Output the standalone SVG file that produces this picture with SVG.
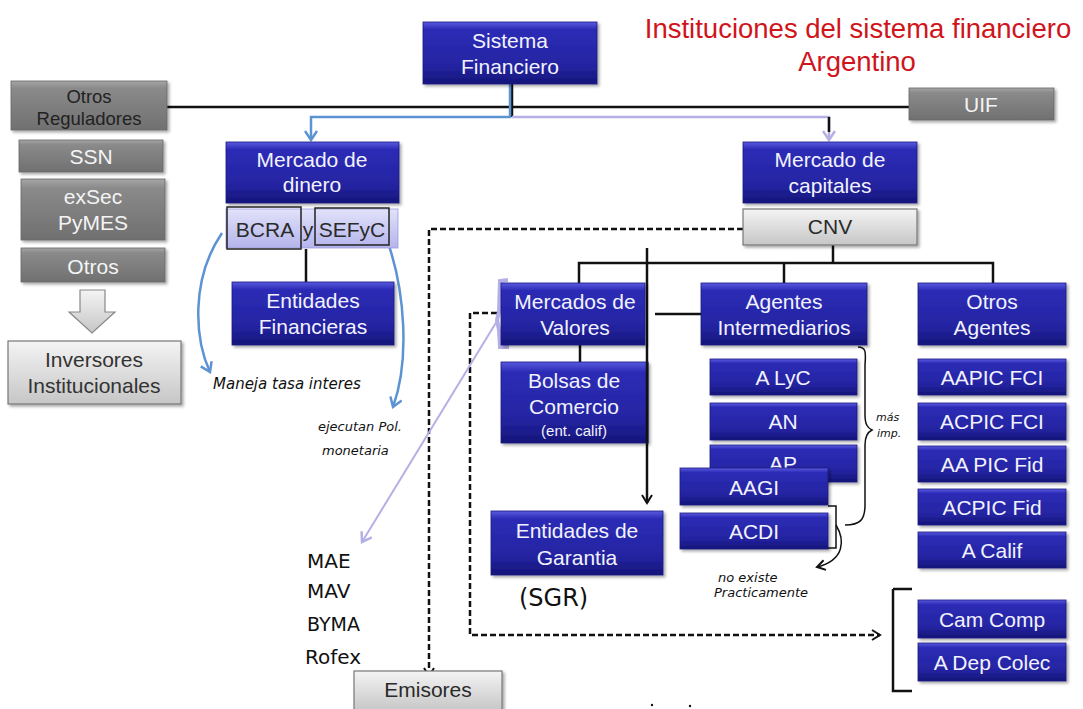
<svg xmlns="http://www.w3.org/2000/svg" width="1083" height="709" viewBox="0 0 1083 709">
<defs>
<linearGradient id="gBlue" x1="0" y1="0" x2="0" y2="1">
<stop offset="0" stop-color="#5a5ae0"/>
<stop offset="0.12" stop-color="#2c2cb6"/>
<stop offset="0.7" stop-color="#2424a2"/>
<stop offset="1" stop-color="#15157a"/>
</linearGradient>
<linearGradient id="gGray" x1="0" y1="0" x2="0" y2="1">
<stop offset="0" stop-color="#a6a6a6"/>
<stop offset="0.15" stop-color="#8a8a8a"/>
<stop offset="1" stop-color="#707070"/>
</linearGradient>
<linearGradient id="gLight" x1="0" y1="0" x2="0" y2="1">
<stop offset="0" stop-color="#f4f4f4"/>
<stop offset="1" stop-color="#c6c6c6"/>
</linearGradient>
<linearGradient id="gLav" x1="0" y1="0" x2="0" y2="1">
<stop offset="0" stop-color="#e2e2fa"/>
<stop offset="1" stop-color="#b4b4ec"/>
</linearGradient>
<filter id="sh" x="-10%" y="-10%" width="125%" height="135%">
<feDropShadow dx="2" dy="2" stdDeviation="1.5" flood-color="#000" flood-opacity="0.35"/>
</filter>
<marker id="aBlack" markerWidth="12" markerHeight="12" refX="10" refY="6" orient="auto" markerUnits="userSpaceOnUse">
<path d="M2,1 L10,6 L2,11" fill="none" stroke="#111" stroke-width="2"/>
</marker>
<marker id="aBlue" markerWidth="14" markerHeight="14" refX="11" refY="7" orient="auto" markerUnits="userSpaceOnUse">
<path d="M2,1 L11,7 L2,13" fill="none" stroke="#5b93d3" stroke-width="2.5"/>
</marker>
<marker id="aLav" markerWidth="14" markerHeight="14" refX="11" refY="7" orient="auto" markerUnits="userSpaceOnUse">
<path d="M2,1 L11,7 L2,13" fill="none" stroke="#b4b0e6" stroke-width="2.5"/>
</marker>
<marker id="aHand" markerWidth="12" markerHeight="12" refX="10" refY="6" orient="auto" markerUnits="userSpaceOnUse">
<path d="M2,1 L10,6 L2,11" fill="none" stroke="#111" stroke-width="2"/>
</marker>
</defs>
<style>
.blue{fill:url(#gBlue);stroke:#1a1a80;stroke-width:0.8;filter:url(#sh)}
.gray{fill:url(#gGray);stroke:#666;stroke-width:0.8;filter:url(#sh)}
.light{fill:url(#gLight);stroke:#777;stroke-width:1.2;filter:url(#sh)}
.lav{fill:url(#gLav);stroke:#9c9ce0;stroke-width:0.8}
text{font-family:"Liberation Sans",Arial,sans-serif;text-anchor:middle}
.tw{fill:#f2f2ff;font-size:21px}
.td{fill:#2a2a2a;font-size:21px}
.tg{fill:#f4f4f4;font-size:21px}
.hand{font-family:"DejaVu Sans",sans-serif;fill:#111;text-anchor:start;font-style:italic}
.conn{fill:none;stroke:#111;stroke-width:2.5}
.dash{fill:none;stroke:#111;stroke-width:2.5;stroke-dasharray:6 3}
</style>

<text x="858" y="38" style="fill:#d0141c;font-size:27.5px">Instituciones del sistema financiero</text>
<text x="857" y="71" style="fill:#d0141c;font-size:27.5px">Argentino</text>

<g id="connectors">
<line class="conn" x1="167" y1="107" x2="909" y2="107"/>
<line class="conn" x1="512" y1="84" x2="512" y2="117"/>
<path d="M510,84 L510,117 L311,117 L311,140" fill="none" stroke="#5b93d3" stroke-width="2.5" marker-end="url(#aBlue)"/>
<path d="M512,117 L829,117 L829,140" fill="none" stroke="#b4b0e6" stroke-width="2.5" marker-end="url(#aLav)"/>
<line class="conn" x1="829" y1="117" x2="829" y2="132" stroke-width="1.5"/>
<line class="conn" x1="306" y1="249" x2="306" y2="282"/>
<path class="dash" d="M743,229 L429,229 L429,676" marker-end="url(#aBlack)"/>
<line class="conn" x1="833" y1="245" x2="833" y2="263"/>
<path class="conn" d="M579,283 L579,263 L993,263 L993,283"/>
<line class="conn" x1="784" y1="263" x2="784" y2="283"/>
<line class="conn" x1="647" y1="248" x2="647" y2="503" marker-end="url(#aBlack)"/>
<line class="conn" x1="655" y1="314" x2="701" y2="314"/>
<line class="conn" x1="580" y1="345" x2="580" y2="362"/>
<path class="dash" d="M497,313 L470,313 L470,635 L880,635" marker-end="url(#aBlack)"/>
<path d="M222,233 C190,280 195,340 210,372" fill="none" stroke="#5b93d3" stroke-width="2.5" marker-end="url(#aBlue)"/>
<path d="M387,240 C405,290 410,360 393,407" fill="none" stroke="#5b93d3" stroke-width="2.5" marker-end="url(#aBlue)"/>
<path d="M497,321 L362,542" fill="none" stroke="#b4b0e6" stroke-width="2" marker-end="url(#aLav)"/>
<path d="M508,280 L500,281 L499,312 L497,320 L499,330 L500,347 L509,347" fill="none" stroke="#b4b0e6" stroke-width="4"/>
<path d="M893,589 L912,589 M893,589 L893,691 L912,691" fill="none" stroke="#111" stroke-width="2.5"/>
</g>

<g id="sistema"><rect class="blue" x="423" y="22" width="174" height="62"/><text class="tw" x="510" y="48">Sistema</text><text class="tw" x="510" y="74">Financiero</text></g>
<g id="otros-reguladores"><rect class="gray" x="11" y="81" width="156" height="49"/><text x="89" y="103" style="fill:#222;font-size:18.5px">Otros</text><text x="89" y="125" style="fill:#222;font-size:18.5px">Reguladores</text></g>
<g id="uif"><rect class="gray" x="909" y="88" width="145" height="32"/><text class="tg" x="981" y="112">UIF</text></g>
<g id="ssn"><rect class="gray" x="19" y="140" width="144" height="32"/><text class="tg" x="91" y="164">SSN</text></g>
<g id="exsec"><rect class="gray" x="21" y="179" width="144" height="61"/><text class="tg" x="93" y="204">exSec</text><text class="tg" x="93" y="230">PyMES</text></g>
<g id="otros"><rect class="gray" x="21" y="248" width="144" height="34"/><text class="tg" x="93" y="274">Otros</text></g>
<g id="flecha-gris"><path d="M80,290 L105,290 L105,312 L115,312 L92,333 L69,312 L80,312 Z" fill="url(#gLight)" stroke="#888" stroke-width="1.2"/></g>
<g id="inversores"><rect class="light" x="8" y="341" width="173" height="63"/><text class="td" x="94" y="367" style="fill:#333">Inversores</text><text class="td" x="94" y="393" style="fill:#333">Institucionales</text></g>

<g id="mercado-dinero"><rect class="blue" x="226" y="142" width="173" height="61"/><text class="tw" x="312" y="167">Mercado de</text><text class="tw" x="312" y="192">dinero</text></g>
<g id="bcra-sefyc"><rect class="lav" x="226" y="209" width="172" height="39"/>
<rect x="227" y="207" width="74" height="42" fill="none" stroke="#222" stroke-width="1.5"/>
<rect x="315" y="208" width="74" height="37" fill="none" stroke="#222" stroke-width="1.5"/>
<text class="td" x="265" y="237">BCRA</text><text class="td" x="308" y="237">y</text><text class="td" x="352" y="237">SEFyC</text></g>
<g id="entidades-financieras"><rect class="blue" x="232" y="282" width="162" height="63"/><text class="tw" x="313" y="308">Entidades</text><text class="tw" x="313" y="334">Financieras</text></g>

<g id="mercado-capitales"><rect class="blue" x="743" y="142" width="174" height="61"/><text class="tw" x="830" y="167">Mercado de</text><text class="tw" x="830" y="193">capitales</text></g>
<g id="cnv"><rect class="light" x="743" y="209" width="174" height="36"/><text class="td" x="830" y="234">CNV</text></g>

<g id="mercados-valores"><rect class="blue" x="501" y="283" width="144" height="62"/><text class="tw" x="575" y="309">Mercados de</text><text class="tw" x="575" y="335">Valores</text></g>
<g id="agentes-intermediarios"><rect class="blue" x="701" y="283" width="166" height="62"/><text class="tw" x="784" y="309">Agentes</text><text class="tw" x="784" y="335">Intermediarios</text></g>
<g id="otros-agentes"><rect class="blue" x="918" y="283" width="148" height="62"/><text class="tw" x="992" y="309">Otros</text><text class="tw" x="992" y="335">Agentes</text></g>

<g id="bolsas"><rect class="blue" x="501" y="362" width="147" height="81"/><text class="tw" x="574" y="388">Bolsas de</text><text class="tw" x="574" y="414">Comercio</text><text class="tw" x="574" y="436" style="font-size:15px">(ent. calif)</text></g>
<line class="conn" x1="647" y1="362" x2="647" y2="443"/>
<g id="entidades-garantia"><rect class="blue" x="491" y="511" width="172" height="64"/><text class="tw" x="577" y="538">Entidades  de</text><text class="tw" x="577" y="565">Garantia</text></g>

<g id="alyc"><rect class="blue" x="710" y="359" width="147" height="36"/><text class="tw" x="783" y="385">A LyC</text></g>
<g id="an"><rect class="blue" x="710" y="403" width="147" height="37"/><text class="tw" x="783" y="429">AN</text></g>
<g id="ap"><rect class="blue" x="710" y="445" width="147" height="37"/><text class="tw" x="783" y="471">AP</text></g>
<g id="aagi"><rect class="blue" x="680" y="468" width="148" height="37"/><text class="tw" x="754" y="495">AAGI</text></g>
<g id="acdi"><rect class="blue" x="680" y="513" width="148" height="36"/><text class="tw" x="754" y="539">ACDI</text></g>

<g id="aapic-fci"><rect class="blue" x="918" y="359" width="148" height="36"/><text class="tw" x="992" y="385">AAPIC FCI</text></g>
<g id="acpic-fci"><rect class="blue" x="918" y="403" width="148" height="37"/><text class="tw" x="992" y="429">ACPIC FCI</text></g>
<g id="aapic-fid"><rect class="blue" x="918" y="446" width="148" height="36"/><text class="tw" x="992" y="472">AA PIC Fid</text></g>
<g id="acpic-fid"><rect class="blue" x="918" y="489" width="148" height="36"/><text class="tw" x="992" y="515">ACPIC Fid</text></g>
<g id="a-calif"><rect class="blue" x="918" y="532" width="148" height="36"/><text class="tw" x="992" y="558">A Calif</text></g>
<g id="cam-comp"><rect class="blue" x="918" y="600" width="148" height="38"/><text class="tw" x="992" y="627">Cam Comp</text></g>
<g id="a-dep-colec"><rect class="blue" x="918" y="643" width="148" height="38"/><text class="tw" x="992" y="670">A Dep Colec</text></g>

<g id="emisores"><rect class="light" x="354" y="671" width="148" height="40"/><text class="td" x="428" y="697">Emisores</text></g>

<g id="anotaciones">
<path d="M858,347 C866,347 866,352 865,365 L865,415 C865,425 868,428 872,430 C868,432 865,436 865,445 L865,505 C865,520 860,525 845,525" fill="none" stroke="#111" stroke-width="1.5"/>
<path d="M828,506 L836,506 L836,548 L828,548" fill="none" stroke="#111" stroke-width="1.5"/>
<path d="M836,525 C845,540 845,560 817,567" fill="none" stroke="#111" stroke-width="1.5" marker-end="url(#aHand)"/>
<text class="hand" x="213" y="389" style="font-size:15px">Maneja tasa interes</text>
<text class="hand" x="318" y="431" style="font-size:13px">ejecutan Pol.</text>
<text class="hand" x="322" y="455" style="font-size:13px">monetaria</text>
<text class="hand" x="876" y="421" style="font-size:11px">más</text>
<text class="hand" x="877" y="437" style="font-size:11px">imp.</text>
<text class="hand" x="307" y="568" style="font-size:20px;font-style:normal">MAE</text>
<text class="hand" x="307" y="598" style="font-size:20px;font-style:normal">MAV</text>
<text class="hand" x="307" y="631" style="font-size:19px;font-style:normal">BYMA</text>
<text class="hand" x="305" y="664" style="font-size:20px;font-style:normal">Rofex</text>
<text class="hand" x="519" y="606" style="font-size:24px;font-style:normal">(SGR)</text>
<text class="hand" x="718" y="582" style="font-size:13px">no existe</text>
<text class="hand" x="714" y="597" style="font-size:13px">Practicamente</text>
<circle cx="652" cy="705" r="1.2" fill="#111"/>
<circle cx="690" cy="706" r="1.2" fill="#111"/>
</g>
</svg>
